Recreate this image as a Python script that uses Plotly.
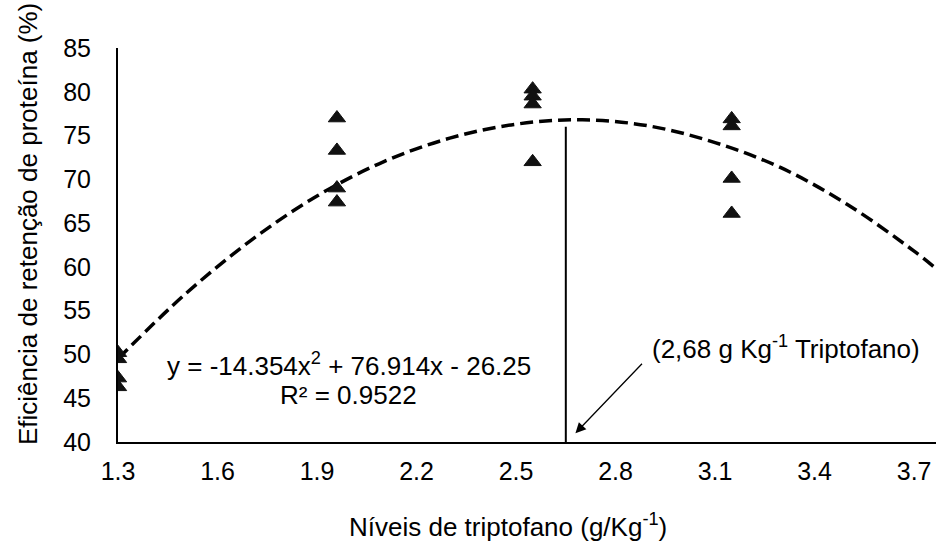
import plotly.graph_objects as go

x_levels = [1.3, 1.3, 1.3, 1.3,
            1.96, 1.96, 1.96, 1.96,
            2.55, 2.55, 2.55, 2.55,
            3.15, 3.15, 3.15, 3.15]
y_eff = [50.2, 49.5, 47.3, 46.3,
         77.0, 73.3, 69.0, 67.4,
         80.3, 79.5, 78.6, 72.0,
         76.9, 76.1, 70.1, 66.1]

# Quadratic trend line
trend_x = [1.3, 1.5, 1.7, 1.9, 2.1, 2.3, 2.5, 2.7, 2.9, 3.1, 3.3, 3.5, 3.7, 3.76]
trend_y = [49.5, 56.8, 63.0, 68.1, 72.0, 74.7, 76.3, 76.8, 76.1, 74.2, 71.3, 67.1, 61.8, 60.0]

# Vertical marker line at the optimum
opt_x = [2.65, 2.65]
opt_y = [40, 76]

x_ticks = [1.3, 1.6, 1.9, 2.2, 2.5, 2.8, 3.1, 3.4, 3.7]
y_ticks = [40, 45, 50, 55, 60, 65, 70, 75, 80, 85]

FONT = "Liberation Sans, Arial, sans-serif"

fig = go.Figure()
fig.add_trace(go.Scatter(x=trend_x, y=trend_y, mode="lines",
                         line=dict(color="black", width=3.5, dash="13px,6px", shape="spline"),
                         showlegend=False, hoverinfo="skip"))
fig.add_trace(go.Scatter(x=opt_x, y=opt_y, mode="lines",
                         line=dict(color="black", width=2),
                         showlegend=False, hoverinfo="skip"))
fig.add_trace(go.Scatter(x=x_levels, y=y_eff, mode="markers",
                         marker=dict(symbol="triangle-up", size=15, color="#111111",
                                     line=dict(color="#111111", width=1)),
                         showlegend=False))

fig.update_layout(
    width=936, height=541,
    margin=dict(l=118, r=0, t=48, b=99),
    paper_bgcolor="white", plot_bgcolor="white",
    font=dict(family=FONT, size=25, color="black"),
    xaxis=dict(range=[1.3, 3.766], tickvals=x_ticks, tickformat=".1f",
               showgrid=False, zeroline=False, showline=True, linecolor="black", linewidth=2,
               ticks="outside", ticklen=6, tickcolor="white", fixedrange=True),
    yaxis=dict(range=[40, 85], tickvals=y_ticks,
               showgrid=False, zeroline=False, showline=True, linecolor="black", linewidth=2,
               ticks="outside", ticklen=20, tickcolor="white", fixedrange=True),
    annotations=[
        dict(text="Níveis de triptofano (g/Kg<sup>-1</sup>)", xref="paper", yref="paper",
             x=(507.5 - 118) / 818, y=(442 - 525) / 394, xanchor="center", yanchor="middle",
             showarrow=False, font=dict(size=26)),
        dict(text="Eficiência de retenção de proteína (%)", xref="paper", yref="paper",
             x=(28 - 118) / 818, y=(442 - 224) / 394, xanchor="center", yanchor="middle",
             showarrow=False, textangle=-90, font=dict(size=26)),
        dict(text="y = -14.354x<sup>2</sup> + 76.914x - 26.25",
             x=1.995, y=48.8, xref="x", yref="y", showarrow=False, font=dict(size=26)),
        dict(text="R² = 0.9522",
             x=1.995, y=45.4, xref="x", yref="y", showarrow=False, font=dict(size=26)),
        dict(text="(2,68 g Kg<sup>-1</sup> Triptofano)", x=3.313, y=50.85, xref="x", yref="y",
             showarrow=False, font=dict(size=26)),
        dict(text="", x=2.679, y=41.0, xref="x", yref="y", showarrow=True,
             ax=68, ay=-71, arrowhead=2, arrowsize=1.6, arrowwidth=1.3, arrowcolor="black"),
    ],
)

fig.write_html("out.html", config={"displayModeBar": False},
               post_script="document.body.style.margin='0';document.body.style.overflow='hidden';")
